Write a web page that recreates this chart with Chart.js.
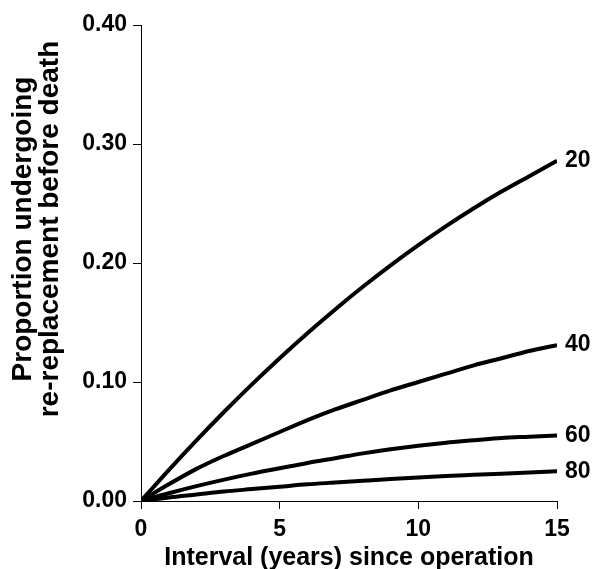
<!DOCTYPE html>
<html>
<head>
<meta charset="utf-8">
<script src="https://cdn.jsdelivr.net/npm/chart.js@4/dist/chart.umd.min.js"></script>
<style>
  html, body { margin: 0; padding: 0; background: #fff; }
  #wrap { width: 598px; height: 569px; }
</style>
</head>
<body>
<div id="wrap"><canvas id="myChart" width="598" height="569"></canvas></div>
<script>
// Years since operation
var years = [0, 1, 2, 3, 4, 5, 6, 7, 8, 9, 10, 11, 12, 13, 14, 15];

// Proportion undergoing re-replacement, by age at operation
var age20 = [0, 0.026, 0.051, 0.075, 0.098, 0.120, 0.141, 0.161, 0.180, 0.198, 0.215, 0.231, 0.246, 0.260, 0.273, 0.286];
var age40 = [0, 0.014, 0.027, 0.038, 0.048, 0.058, 0.068, 0.077, 0.085, 0.093, 0.100, 0.107, 0.114, 0.120, 0.126, 0.131];
var age60 = [0, 0.0065, 0.0125, 0.018, 0.023, 0.0275, 0.032, 0.036, 0.040, 0.0435, 0.0465, 0.049, 0.051, 0.053, 0.054, 0.055];
var age80 = [0, 0.003, 0.0055, 0.008, 0.010, 0.012, 0.014, 0.0155, 0.017, 0.0185, 0.0198, 0.021, 0.022, 0.023, 0.024, 0.025];

var seriesLabels = ["20", "40", "60", "80"];
var xTicks = [0, 5, 10, 15];
var yTitle = ["Proportion undergoing", "re-replacement before death"];

var FONT = "'Liberation Sans', Arial, Helvetica, sans-serif";

function toPoints(vals) {
  return vals.map(function (v, i) { return { x: years[i], y: v }; });
}

// age label at the end of each curve, plus the two-line y title
var extraText = {
  id: "extraText",
  afterDatasetsDraw: function (chart) {
    var c = chart.ctx;
    var xs = chart.scales.x, ys = chart.scales.y;
    c.save();
    c.font = "bold 23px " + FONT;
    c.fillStyle = "#000";
    c.textAlign = "left";
    c.textBaseline = "middle";
    chart.data.datasets.forEach(function (ds) {
      var last = ds.data[ds.data.length - 1];
      c.fillText(ds.label, xs.getPixelForValue(last.x) + 8, ys.getPixelForValue(last.y));
    });
    c.restore();
  },
  afterDraw: function (chart) {
    var c = chart.ctx;
    c.save();
    c.translate(0, 229);
    c.rotate(-Math.PI / 2);
    c.font = "bold 28px " + FONT;
    c.fillStyle = "#000";
    c.textAlign = "center";
    c.textBaseline = "middle";
    c.fillText(yTitle[0], 0, 23);
    c.fillText(yTitle[1], 0, 50);
    c.restore();
  }
};

var ctx = document.getElementById("myChart").getContext("2d");

var myChart = new Chart(ctx, {
  type: "line",
  data: {
    datasets: [age20, age40, age60, age80].map(function (vals, i) {
      return {
        label: seriesLabels[i],
        data: toPoints(vals),
        borderColor: "#000",
        borderWidth: 4,
        pointRadius: 0,
        fill: false,
        cubicInterpolationMode: "monotone"
      };
    })
  },
  options: {
    responsive: false,
    animation: false,
    layout: { padding: { top: 25, right: 41, left: 0, bottom: 0 } },
    plugins: {
      legend: { display: false },
      tooltip: { enabled: false }
    },
    scales: {
      x: {
        type: "linear",
        min: 0,
        max: 15,
        afterBuildTicks: function (scale) {
          scale.ticks = xTicks.map(function (v) { return { value: v }; });
        },
        grid: { drawOnChartArea: false, drawTicks: true, tickLength: 8, color: "#000" },
        border: { display: true, color: "#000", width: 1 },
        ticks: { color: "#000", font: { family: FONT, size: 23, weight: "bold" }, padding: 7, maxRotation: 0 },
        title: {
          display: true,
          text: "Interval (years) since operation",
          color: "#000",
          font: { family: FONT, size: 25, weight: "bold" },
          padding: { top: 0, bottom: -4 }
        },
        afterFit: function (scale) { scale.height = 68; }
      },
      y: {
        min: 0,
        max: 0.4,
        ticks: {
          stepSize: 0.1,
          color: "#000",
          font: { family: FONT, size: 23, weight: "bold" },
          padding: 6,
          callback: function (v) { return Number(v).toFixed(2); }
        },
        grid: { drawOnChartArea: false, drawTicks: true, tickLength: 8, color: "#000" },
        border: { display: true, color: "#000", width: 1 },
        afterFit: function (scale) { scale.width = 141; }
      }
    }
  },
  plugins: [extraText]
});
</script>
</body>
</html>
